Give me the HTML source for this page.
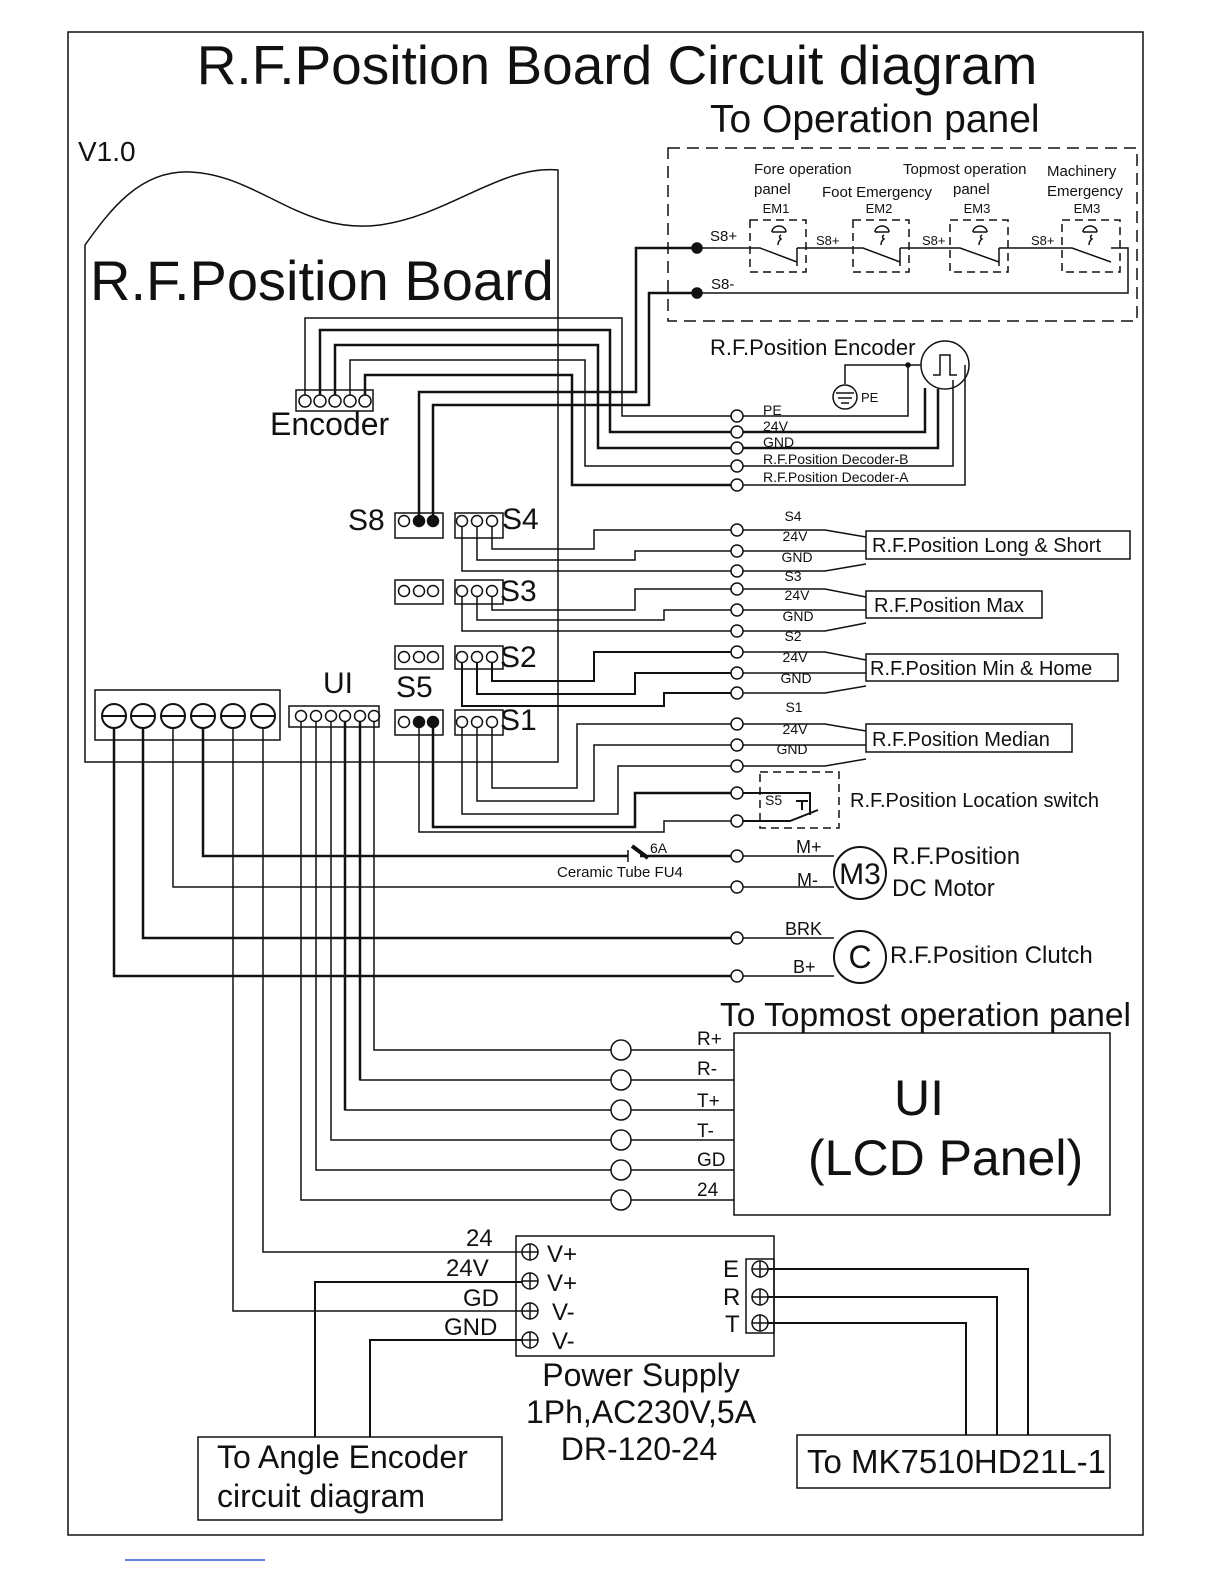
<!DOCTYPE html>
<html><head><meta charset="utf-8"><style>
body{margin:0;background:#fff}
svg{display:block}
text{font-family:"Liberation Sans",sans-serif;fill:#111}
</style></head><body>
<svg width="1224" height="1584" viewBox="0 0 1224 1584" xmlns="http://www.w3.org/2000/svg">
<g fill="none" stroke="#111" stroke-width="1.5">
<rect x="68" y="32" width="1075" height="1503"/>
<path d="M85 245 C110 210 140 170 190 172 C260 175 300 235 380 225 C450 215 500 165 558 170 L558 762 L85 762 Z"/>
<rect x="668" y="148" width="469" height="173" stroke-dasharray="12,7"/>
<rect x="750" y="220" width="56" height="52" stroke-dasharray="8,5"/>
<rect x="853" y="220" width="56" height="52" stroke-dasharray="8,5"/>
<rect x="950" y="220" width="58" height="52" stroke-dasharray="8,5"/>
<rect x="1062" y="220" width="58" height="52" stroke-dasharray="8,5"/>
<path d="M697 248 L760 248 L797 262 M797 248 V266 M797 248 H863 L900 262 M900 248 V266 M900 248 H960 L999 262 M999 248 V266 M999 248 H1072 L1111 262 M1111 248 H1128 V293 H697"/>
<path d="M778 245 q0 -4 3 -6 q-3 -2 0 -4 M772 232 h14 M772 232 a7 6 0 0 1 14 0"/>
<path d="M881 245 q0 -4 3 -6 q-3 -2 0 -4 M875 232 h14 M875 232 a7 6 0 0 1 14 0"/>
<path d="M979 245 q0 -4 3 -6 q-3 -2 0 -4 M973 232 h14 M973 232 a7 6 0 0 1 14 0"/>
<path d="M1089 245 q0 -4 3 -6 q-3 -2 0 -4 M1083 232 h14 M1083 232 a7 6 0 0 1 14 0"/>
<rect x="296" y="390" width="77" height="21"/>
<circle cx="305" cy="401" r="6"/><circle cx="320" cy="401" r="6"/><circle cx="335" cy="401" r="6"/><circle cx="350" cy="401" r="6"/><circle cx="365" cy="401" r="6"/>
<path d="M305 395 V318 H622 V416 H732"/>
<path d="M320 395 V330 H610 V432 H732" stroke-width="2.5"/>
<path d="M335 395 V345 H598 V448 H732" stroke-width="2.5"/>
<path d="M350 395 V360 H585 V466 H732"/>
<path d="M365 395 V375 H572 V485 H732" stroke-width="2.5"/>
<path d="M743 416 H908 V365 H845 V384 M908 365 H921"/>
<path d="M743 432 H925 V388" stroke-width="2.5"/>
<path d="M743 448 H938 V389" stroke-width="2.5"/>
<path d="M743 466 H953 V380"/>
<path d="M743 485 H965 V365"/>
<circle cx="945" cy="365" r="24"/>
<path d="M933 375 H940 V355 H950 V375 H957"/>
<circle cx="845" cy="397" r="12"/><path d="M836 393 h18 M838 398 h14 M841 403 h8"/>
<circle cx="908" cy="365" r="2" fill="#111"/>
<circle cx="737" cy="416" r="6" fill="#fff"/><circle cx="737" cy="432" r="6" fill="#fff"/><circle cx="737" cy="448" r="6" fill="#fff"/><circle cx="737" cy="466" r="6" fill="#fff"/><circle cx="737" cy="485" r="6" fill="#fff"/>
<rect x="395" y="513" width="48" height="25"/>
<circle cx="404" cy="521" r="5.5"/><circle cx="419" cy="521" r="5.5" fill="#111"/><circle cx="433" cy="521" r="5.5" fill="#111"/>
<path d="M419 516 V392 H636 V248 H697" stroke-width="2.5"/>
<path d="M433 516 V405 H649 V293 H697" stroke-width="2.5"/>
<circle cx="697" cy="248" r="5" fill="#111"/><circle cx="697" cy="293" r="5" fill="#111"/>
<rect x="455" y="513" width="48" height="25"/>
<rect x="395" y="580" width="48" height="24"/><rect x="455" y="580" width="48" height="24"/>
<rect x="395" y="646" width="48" height="23"/><rect x="455" y="646" width="48" height="23"/>
<rect x="395" y="710" width="48" height="25"/><rect x="455" y="710" width="48" height="25"/>
<g>
<circle cx="404" cy="591" r="5.5"/><circle cx="419" cy="591" r="5.5"/><circle cx="433" cy="591" r="5.5"/>
<circle cx="404" cy="657" r="5.5"/><circle cx="419" cy="657" r="5.5"/><circle cx="433" cy="657" r="5.5"/>
<circle cx="404" cy="722" r="5.5"/><circle cx="419" cy="722" r="5.5" fill="#111"/><circle cx="433" cy="722" r="5.5" fill="#111"/>
<circle cx="462" cy="521" r="5.5"/><circle cx="477" cy="521" r="5.5"/><circle cx="492" cy="521" r="5.5"/>
<circle cx="462" cy="591" r="5.5"/><circle cx="477" cy="591" r="5.5"/><circle cx="492" cy="591" r="5.5"/>
<circle cx="462" cy="657" r="5.5"/><circle cx="477" cy="657" r="5.5"/><circle cx="492" cy="657" r="5.5"/>
<circle cx="462" cy="722" r="5.5"/><circle cx="477" cy="722" r="5.5"/><circle cx="492" cy="722" r="5.5"/>
</g>
<path d="M492 527 V549 H594 V530 H732 M477 527 V560 H635 V551 H732 M462 527 V571 H732"/>
<path d="M492 597 V610 H635 V589 H732 M477 597 V620 H664 V610 H732 M462 597 V631 H732"/>
<path d="M492 663 V681 H594 V652 H732 M477 663 V694 H635 V673 H732 M462 663 V706 H664 V693 H732" stroke-width="2"/>
<path d="M492 728 V788 H577 V724 H732 M477 728 V801 H594 V745 H732 M462 728 V814 H618 V766 H732"/>
<path d="M433 728 V827 H635 V793 H732" stroke-width="2.5"/>
<path d="M419 728 V832 H664 V821 H732"/>
<g fill="#fff">
<circle cx="737" cy="530" r="6"/><circle cx="737" cy="551" r="6"/><circle cx="737" cy="571" r="6"/>
<circle cx="737" cy="589" r="6"/><circle cx="737" cy="610" r="6"/><circle cx="737" cy="631" r="6"/>
<circle cx="737" cy="652" r="6"/><circle cx="737" cy="673" r="6"/><circle cx="737" cy="693" r="6"/>
<circle cx="737" cy="724" r="6"/><circle cx="737" cy="745" r="6"/><circle cx="737" cy="766" r="6"/>
<circle cx="737" cy="793" r="6"/><circle cx="737" cy="821" r="6"/>
</g>
<path d="M743 530 H825 L866 537 M743 551 H866 M743 571 H825 L866 564"/>
<path d="M743 589 H825 L866 597 M743 610 H866 M743 631 H825 L866 623"/>
<path d="M743 652 H825 L866 660 M743 673 H866 M743 693 H825 L866 686"/>
<path d="M743 724 H825 L866 731 M743 745 H866 M743 766 H825 L866 759"/>
<rect x="866" y="531" width="264" height="28"/>
<rect x="866" y="591" width="176" height="27"/>
<rect x="866" y="654" width="252" height="27"/>
<rect x="866" y="724" width="206" height="28"/>
<rect x="760" y="772" width="79" height="56" stroke-dasharray="8,5"/>
<path d="M743 793 H810 V815 M743 821 H790 L818 810 M796 801 H808 M802 801 V810" stroke-width="2"/>
<rect x="95" y="690" width="185" height="50"/>
<g stroke-width="2"><circle cx="114" cy="716" r="12"/><circle cx="143" cy="716" r="12"/><circle cx="173" cy="716" r="12"/><circle cx="203" cy="716" r="12"/><circle cx="233" cy="716" r="12"/><circle cx="263" cy="716" r="12"/>
<path d="M102 716h24M131 716h24M161 716h24M191 716h24M221 716h24M251 716h24"/></g>
<rect x="289" y="706" width="90" height="21"/>
<circle cx="301" cy="716" r="5.5"/><circle cx="316" cy="716" r="5.5"/><circle cx="331" cy="716" r="5.5"/><circle cx="345" cy="716" r="5.5"/><circle cx="360" cy="716" r="5.5"/><circle cx="374" cy="716" r="5.5"/>
<path d="M114 728 V976 H732 M143 728 V938 H732" stroke-width="2.5"/>
<path d="M173 728 V887 H732"/>
<path d="M203 728 V856 H628 M640 856 H732" stroke-width="2.5"/>
<path d="M628 850 V862"/><path d="M632 846 L648 858" stroke-width="4"/>
<path d="M233 728 V1311 H522 M263 728 V1252 H522"/>
<path d="M374 722 V1050 H611 M360 722 V1080 H611 M345 722 V1110 H611 M331 722 V1140 H611 M316 722 V1170 H611 M301 722 V1200 H611"/>
<path d="M345 722 V1110 M360 722 V1080" stroke-width="2.5"/>
<circle cx="737" cy="856" r="6" fill="#fff"/><circle cx="737" cy="887" r="6" fill="#fff"/>
<circle cx="737" cy="938" r="6" fill="#fff"/><circle cx="737" cy="976" r="6" fill="#fff"/>
<path d="M743 856 H834 M743 887 H834 M743 938 H834 M743 976 H834"/>
<circle cx="860" cy="873" r="26" stroke-width="2"/>
<circle cx="860" cy="957" r="26" stroke-width="2"/>
<g stroke-width="1.5">
<circle cx="621" cy="1050" r="10"/><circle cx="621" cy="1080" r="10"/><circle cx="621" cy="1110" r="10"/><circle cx="621" cy="1140" r="10"/><circle cx="621" cy="1170" r="10"/><circle cx="621" cy="1200" r="10"/>
<path d="M631 1050H734M631 1080H734M631 1110H734M631 1140H734M631 1170H734M631 1200H734"/>
</g>
<rect x="734" y="1033" width="376" height="182"/>
<rect x="516" y="1236" width="258" height="120"/>
<g><circle cx="530" cy="1252" r="8"/><circle cx="530" cy="1281" r="8"/><circle cx="530" cy="1311" r="8"/><circle cx="530" cy="1340" r="8"/>
<path d="M522 1252h16M530 1244v16M522 1281h16M530 1273v16M522 1311h16M530 1303v16M522 1340h16M530 1332v16"/>
<circle cx="760" cy="1269" r="8"/><circle cx="760" cy="1297" r="8"/><circle cx="760" cy="1323" r="8"/>
<path d="M752 1269h16M760 1261v16M752 1297h16M760 1289v16M752 1323h16M760 1315v16"/>
<rect x="746" y="1259" width="28" height="74"/></g>
<path d="M315 1437 V1282 H522 M370 1437 V1340 H522" stroke-width="2"/>
<path d="M768 1269 H1028 V1435 M768 1297 H997 V1435 M768 1323 H966 V1435" stroke-width="2"/>
<rect x="198" y="1437" width="304" height="83"/>
<rect x="797" y="1435" width="313" height="53"/>
</g>
<path d="M125 1560 H265" stroke="#3355cc" stroke-width="1.5"/>
<text x="617" y="84" font-size="55" text-anchor="middle">R.F.Position Board Circuit diagram</text>
<text x="710" y="132" font-size="39">To Operation panel</text>
<text x="78" y="161" font-size="28">V1.0</text>
<text x="90" y="300" font-size="56">R.F.Position Board</text>
<g font-size="15">
<text x="754" y="174">Fore operation</text><text x="754" y="194">panel</text>
<text x="822" y="197">Foot Emergency</text>
<text x="903" y="174">Topmost operation</text><text x="953" y="194">panel</text>
<text x="1047" y="176">Machinery</text><text x="1047" y="196">Emergency</text>
</g>
<g font-size="13" text-anchor="middle"><text x="776" y="213">EM1</text><text x="879" y="213">EM2</text><text x="977" y="213">EM3</text><text x="1087" y="213">EM3</text></g>
<g font-size="15"><text x="710" y="241">S8+</text><text x="711" y="289">S8-</text></g>
<g font-size="13"><text x="816" y="245">S8+</text><text x="922" y="245">S8+</text><text x="1031" y="245">S8+</text></g>
<text x="270" y="435" font-size="32">Encoder</text>
<text x="710" y="355" font-size="22">R.F.Position Encoder</text>
<text x="861" y="402" font-size="13">PE</text>
<g font-size="14"><text x="763" y="415">PE</text><text x="763" y="431">24V</text><text x="763" y="447">GND</text><text x="763" y="464">R.F.Position Decoder-B</text><text x="763" y="482">R.F.Position Decoder-A</text></g>
<g font-size="30"><text x="348" y="530">S8</text><text x="502" y="529">S4</text><text x="500" y="601">S3</text><text x="500" y="667">S2</text><text x="500" y="730">S1</text><text x="396" y="697">S5</text><text x="323" y="693">UI</text></g>
<g font-size="14" text-anchor="middle">
<text x="793" y="521">S4</text><text x="795" y="541">24V</text><text x="797" y="562">GND</text>
<text x="793" y="581">S3</text><text x="797" y="600">24V</text><text x="798" y="621">GND</text>
<text x="793" y="641">S2</text><text x="795" y="662">24V</text><text x="796" y="683">GND</text>
<text x="794" y="712">S1</text><text x="795" y="734">24V</text><text x="792" y="754">GND</text>
</g>
<g font-size="20"><text x="872" y="552">R.F.Position Long &amp; Short</text><text x="874" y="612">R.F.Position Max</text><text x="870" y="675">R.F.Position Min &amp; Home</text><text x="872" y="746">R.F.Position Median</text><text x="850" y="807">R.F.Position Location switch</text></g>
<text x="765" y="805" font-size="14">S5</text>
<text x="650" y="853" font-size="14">6A</text>
<text x="557" y="877" font-size="15">Ceramic Tube FU4</text>
<g font-size="18"><text x="796" y="853">M+</text><text x="797" y="886">M-</text><text x="785" y="935">BRK</text><text x="793" y="973">B+</text></g>
<text x="860" y="884" font-size="30" text-anchor="middle">M3</text>
<text x="860" y="968" font-size="32" text-anchor="middle">C</text>
<g font-size="24"><text x="892" y="864">R.F.Position</text><text x="892" y="896">DC Motor</text><text x="890" y="963">R.F.Position Clutch</text></g>
<text x="720" y="1026" font-size="33.5">To Topmost operation panel</text>
<g font-size="19"><text x="697" y="1045">R+</text><text x="697" y="1075">R-</text><text x="697" y="1107">T+</text><text x="697" y="1137">T-</text><text x="697" y="1166">GD</text><text x="697" y="1196">24</text></g>
<text x="894" y="1115" font-size="50">UI</text>
<text x="808" y="1175" font-size="50">(LCD Panel)</text>
<g font-size="24"><text x="466" y="1246">24</text><text x="446" y="1276">24V</text><text x="463" y="1306">GD</text><text x="444" y="1335">GND</text>
<text x="547" y="1262">V+</text><text x="547" y="1291">V+</text><text x="552" y="1320">V-</text><text x="552" y="1349">V-</text>
<text x="723" y="1277">E</text><text x="723" y="1305">R</text><text x="725" y="1332">T</text></g>
<g font-size="32" text-anchor="middle"><text x="641" y="1386">Power Supply</text><text x="641" y="1423">1Ph,AC230V,5A</text><text x="639" y="1460">DR-120-24</text></g>
<g font-size="32"><text x="217" y="1468">To Angle Encoder</text><text x="217" y="1507">circuit diagram</text></g>
<text x="807" y="1473" font-size="33">To MK7510HD21L-1</text>
</svg>
</body></html>
